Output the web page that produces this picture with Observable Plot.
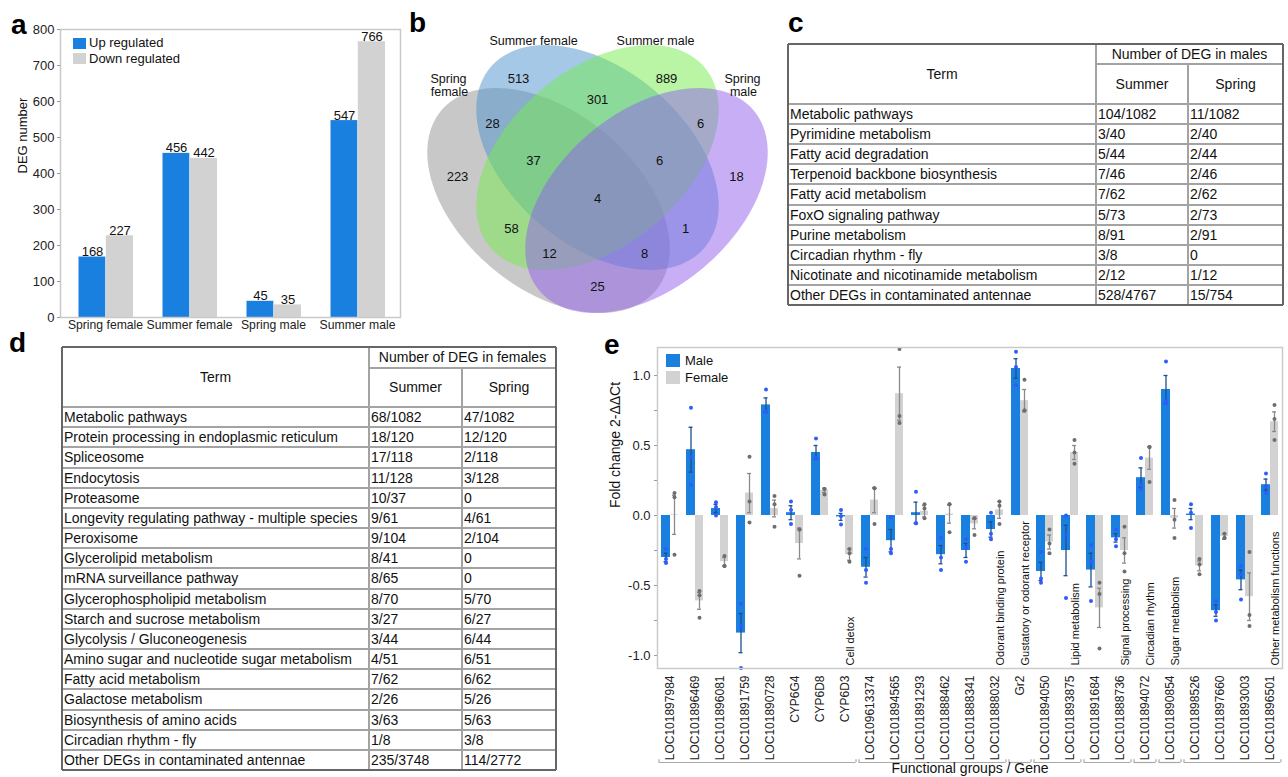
<!DOCTYPE html>
<html><head><meta charset="utf-8">
<script src="https://cdn.jsdelivr.net/npm/d3@7"></script>
<script src="https://cdn.jsdelivr.net/npm/@observablehq/plot@0.6"></script>
<style>
body{margin:0;background:#fff;width:1288px;height:777px;position:relative;overflow:hidden;font-family:"Liberation Sans",Arial,sans-serif;color:#111}
.abs{position:absolute}
.plab{position:absolute;font:bold 28px/28px "Liberation Sans",Arial,sans-serif;color:#000}
.leg{position:absolute;font:13px/13px "Liberation Sans",Arial,sans-serif;color:#111;white-space:nowrap}
.sw{position:absolute}
.tline{position:absolute}
.tcell{position:absolute;font:14px "Liberation Sans",Arial,sans-serif;color:#111;white-space:nowrap}
</style></head><body>
<div id="pa" class="abs" style="left:0;top:0"></div>
<div id="pb" class="abs" style="left:400px;top:0"></div>
<div id="pc" class="abs" style="left:788px;top:44px;width:495px;height:261px"></div>
<div id="pd" class="abs" style="left:62px;top:347px;width:494px;height:423px"></div>
<div id="pe" class="abs" style="left:600px;top:335px"></div>
<div class="plab" style="left:11px;top:11px">a</div>
<div class="plab" style="left:409px;top:9px">b</div>
<div class="plab" style="left:788px;top:9px">c</div>
<div class="plab" style="left:9px;top:329px">d</div>
<div class="plab" style="left:604px;top:331px">e</div>
<script>
// ---------- Panel a data ----------
const aCategories = ["Spring female","Summer female","Spring male","Summer male"];
const aSeries = ["Up regulated","Down regulated"];
const aUp = [168,456,45,547];
const aDown = [227,442,35,766];
const aTicks = [0,100,200,300,400,500,600,700,800];
const aColors = ["#1a80e0","#d2d2d2"];

// ---------- Panel b data ----------
const vennSets = ["Spring female","Summer female","Summer male","Spring male"];
const vennFills = ["#919191","#4b91cd","#73eb4b","#915feb"];
const vennRegions = ["Spring female only","Summer female only","Summer male only","Spring male only",
  "Summer female & Summer male","Spring female & Summer female","Summer male & Spring male",
  "Spring female & Summer female & Summer male","Summer female & Summer male & Spring male","All four",
  "Spring female & Summer male","Summer female & Spring male","Spring female & Summer male & Spring male",
  "Spring female & Summer female & Spring male","Spring female & Spring male"];
const vennCounts = [223,513,889,18,301,28,6,37,6,4,58,1,12,8,25];
// Venn layout (standard 4-ellipse diagram geometry, units relative to diagram centre)
const vennCx = [-49,0,0,49], vennCy = [20,-23,-23,20], vennRot = [40,40,-40,-40];
const vennSemiA = 140, vennSemiB = 88;
const vennLabelX = [-140,-79,69,139,0,-105,103,-64,62,0,-86,88,-48,47,0];
const vennLabelY = [-4,-102,-102,-4,-81,-57,-57,-20,-20,18,48,48,73,73,106];
const vennSetLabelText = ["Spring","female","Summer female","Summer male","Spring","male"];
const vennSetLabelX = [-149,-148,-64,58,145,146];
const vennSetLabelY = [-101.5,-88.5,-140,-140,-101.5,-88.5];

// ---------- Panel c data ----------
const cTerms = ["Metabolic pathways","Pyrimidine metabolism","Fatty acid degradation","Terpenoid backbone biosynthesis","Fatty acid metabolism","FoxO signaling pathway","Purine metabolism","Circadian rhythm  - fly","Nicotinate and nicotinamide metabolism","Other DEGs in contaminated antennae"];
const cSummer = ["104/1082","3/40","5/44","7/46","7/62","5/73","8/91","3/8","2/12","528/4767"];
const cSpring = ["11/1082","2/40","2/44","2/46","2/62","2/73","2/91","0","1/12","15/754"];

// ---------- Panel d data ----------
const dTerms = ["Metabolic pathways","Protein processing in endoplasmic reticulum","Spliceosome","Endocytosis","Proteasome","Longevity regulating pathway - multiple species","Peroxisome","Glycerolipid metabolism","mRNA surveillance pathway","Glycerophospholipid metabolism","Starch and sucrose metabolism","Glycolysis / Gluconeogenesis","Amino sugar and nucleotide sugar metabolism","Fatty acid metabolism","Galactose metabolism","Biosynthesis of amino acids","Circadian rhythm  - fly","Other DEGs in contaminated antennae"];
const dSummer = ["68/1082","18/120","17/118","11/128","10/37","9/61","9/104","8/41","8/65","8/70","3/27","3/44","4/51","7/62","2/26","3/63","1/8","235/3748"];
const dSpring = ["47/1082","12/120","2/118","3/128","0","4/61","2/104","0","0","5/70","6/27","6/44","6/51","6/62","5/26","5/63","3/8","114/2772"];

// ---------- Panel e data ----------
const eGenes = ["LOC101897984","LOC101896469","LOC101896081","LOC101891759","LOC101890728","CYP6G4","CYP6D8","CYP6D3","LOC109613374","LOC101894565","LOC101891293","LOC101888462","LOC101888341","LOC101888032","Gr2","LOC101894050","LOC101893875","LOC101891684","LOC101888736","LOC101894072","LOC101890854","LOC101898526","LOC101897660","LOC101893003","LOC101896501"];
const eMaleMean = [-0.30,0.47,0.05,-0.84,0.79,0.02,0.45,-0.01,-0.37,-0.18,0.02,-0.28,-0.25,-0.10,1.05,-0.40,-0.25,-0.39,-0.16,0.27,0.90,0.01,-0.68,-0.46,0.22];
const eMaleSE = [0.03,0.16,0.03,0.14,0.05,0.05,0.05,0.025,0.07,0.08,0.075,0.065,0.05,0.055,0.07,0.065,0.18,0.12,0.03,0.07,0.10,0.04,0.04,0.07,0.04];
const eFemaleMean = [0.005,-0.61,-0.33,0.16,0.05,-0.20,0.18,-0.28,0.11,0.87,0.03,0.01,-0.06,0.04,0.82,-0.19,0.45,-0.66,-0.25,0.41,-0.02,-0.36,-0.15,-0.58,0.67];
const eFemaleSE = [0.14,0.06,0.03,0.14,0.06,0.11,0.015,0.04,0.09,0.19,0.04,0.065,0.035,0.06,0.08,0.05,0.05,0.14,0.09,0.08,0.07,0.035,0.02,0.17,0.07];
const eMalePts = [[-0.24,-0.31,-0.34],[0.77,0.42,0.22],[0.095,0.06,0.0],[-0.63,-0.79,-1.09],[0.90,0.74,0.74],[0.10,0.04,-0.06],[0.55,0.41,0.41],[0.04,-0.005,-0.064],[-0.24,-0.39,-0.48],[-0.01,-0.24,-0.27],[0.17,-0.055,-0.055],[-0.16,-0.30,-0.39],[-0.17,-0.23,-0.33],[0.02,-0.13,-0.17],[1.17,1.06,0.93],[-0.26,-0.45,-0.48],[0.0,-0.14,-0.59],[-0.21,-0.33,-0.61],[-0.10,-0.17,-0.22],[0.41,0.22,0.19],[1.10,0.82,0.80],[0.08,0.02,-0.09],[-0.61,-0.69,-0.75],[-0.36,-0.42,-0.60],[0.30,0.21,0.16]];
const eFemalePts = [[0.16,0.13,-0.28],[-0.54,-0.57,-0.73],[-0.29,-0.36,-0.36],[0.42,0.10,-0.05],[0.14,0.08,-0.08],[-0.10,-0.10,-0.43],[0.19,0.19,0.15],[-0.24,-0.27,-0.33],[0.195,0.195,-0.06],[1.19,0.71,0.66],[0.08,0.05,-0.02],[0.08,0.08,-0.12],[-0.02,-0.02,-0.14],[0.10,0.07,-0.06],[0.97,0.75,0.75],[-0.10,-0.20,-0.27],[0.54,0.45,0.37],[-0.48,-0.56,-0.95],[-0.08,-0.27,-0.40],[0.49,0.49,0.24],[0.11,-0.03,-0.16],[-0.31,-0.35,-0.42],[-0.13,-0.16,-0.16],[-0.26,-0.71,-0.79],[0.79,0.69,0.54]];
const eGroups = ["Cell detox","Odorant binding protein","Gustatory or odorant receptor","Lipid metabolism","Signal processing","Circadian rhythm","Sugar metabolism","Other metabolism functions"];
const eGroupSizes = [8,6,1,2,2,1,1,4];
const eTicks = [-1,-0.75,-0.5,-0.25,0,0.25,0.5,0.75,1];
const eSeries = ["Male","Female"];
const eColors = ["#1a80e0","#d2d2d2"];

const FONT = "'Liberation Sans', Arial, sans-serif";

// ================= Panel a =================
const aRows = aCategories.map((c,i)=>({cat:c, up:aUp[i], down:aDown[i]}));
const plotA = Plot.plot({
  width:410, height:340, marginLeft:60, marginRight:10, marginTop:29, marginBottom:23,
  style:{fontFamily:FONT, fontSize:"13px", color:"#222", background:"transparent", overflow:"visible"},
  x:{domain:aCategories, range:[62,400], padding:0},
  y:{domain:[0,800]},
  marks:[
    Plot.barY(aRows,{x:"cat", y:"up", fill:aColors[0], insetLeft:15.5, insetRight:41.7}),
    Plot.barY(aRows,{x:"cat", y:"down", fill:aColors[1], insetLeft:42.8, insetRight:14}),
    Plot.text(aRows,{x:"cat", y:"up", text:d=>String(d.up), dx:-13, lineAnchor:"bottom", dy:-1, fill:"#111"}),
    Plot.text(aRows,{x:"cat", y:"down", text:d=>String(d.down), dx:14.5, lineAnchor:"bottom", dy:-1, fill:"#111"}),
    Plot.frame({stroke:"#c9c9c9", strokeWidth:1.5}),
    Plot.axisY({ticks:aTicks, tickSize:3, tickPadding:3, label:null, stroke:"#999"}),
    Plot.axisX({tickSize:0, tickPadding:3, label:null, fontSize:12.2}),
    Plot.text(["DEG number"],{text:d=>d, frameAnchor:"left", rotate:-90, dx:-38, fill:"#111"})
  ]
});
document.getElementById("pa").appendChild(plotA);

function addLegend(parent, items){
  items.forEach(it=>{
    const s=document.createElement("div"); s.className="sw";
    Object.assign(s.style,{left:it.sx+"px",top:it.sy+"px",width:it.sw+"px",height:it.sh+"px",background:it.color});
    parent.appendChild(s);
    const t=document.createElement("div"); t.className="leg"; t.textContent=it.label;
    Object.assign(t.style,{left:it.tx+"px",top:it.ty+"px"});
    parent.appendChild(t);
  });
}
addLegend(document.body,[
  {label:aSeries[0], color:aColors[0], sx:73, sy:38, sw:13, sh:11, tx:89, ty:36},
  {label:aSeries[1], color:aColors[1], sx:73, sy:53, sw:13, sh:11, tx:89, ty:52}
]);

// ================= Panel b =================
const vennPts = [];
vennSets.forEach((s,k)=>{
  const th = vennRot[k]*Math.PI/180;
  d3.range(0,360,3).forEach(deg=>{
    const t = deg*Math.PI/180;
    const ex = vennSemiA*Math.cos(t), ey = vennSemiB*Math.sin(t);
    vennPts.push({set:s, x:vennCx[k] + ex*Math.cos(th) - ey*Math.sin(th), y:vennCy[k] + ex*Math.sin(th) + ey*Math.cos(th)});
  });
});
const vennLabels = vennCounts.map((c,i)=>({region:vennRegions[i], count:c, x:vennLabelX[i], y:vennLabelY[i]}));
const vennSetLabels = vennSetLabelText.map((s,i)=>({text:s, x:vennSetLabelX[i], y:vennSetLabelY[i]}));
const plotB = Plot.plot({
  width:390, height:335, margin:0,
  style:{fontFamily:FONT, fontSize:"13px", color:"#111", background:"transparent", overflow:"visible"},
  x:{domain:[-197,193], axis:null},
  y:{domain:[-180,155], reverse:true, axis:null},
  color:{domain:vennSets, range:vennFills},
  marks:[
    Plot.line(vennPts,{x:"x", y:"y", z:"set", fill:"set", stroke:null, fillOpacity:0.5, curve:"linear-closed"}),
    Plot.text(vennLabels,{x:"x", y:"y", text:d=>String(d.count), fill:"#111", fontSize:13}),
    Plot.text(vennSetLabels,{x:"x", y:"y", text:"text", fill:"#111", fontSize:12.5})
  ]
});
document.getElementById("pb").appendChild(plotB);

// ================= Tables c & d =================
function buildTable(el, spec){
  const W = spec.colX[3], H = spec.headBottom + spec.rowH*spec.terms.length;
  const inner = "#a3a3a3", outer = "#666";
  function hl(y,x1,x2,c,w){const d=document.createElement("div");d.className="tline";Object.assign(d.style,{left:x1+"px",top:(y-w/2)+"px",width:(x2-x1)+"px",height:w+"px",background:c});el.appendChild(d);}
  function vl(x,y1,y2,c,w){const d=document.createElement("div");d.className="tline";Object.assign(d.style,{left:(x-w/2)+"px",top:y1+"px",width:w+"px",height:(y2-y1)+"px",background:c});el.appendChild(d);}
  function cell(txt,x,y,w,h,align){const d=document.createElement("div");d.className="tcell";d.textContent=txt;
    Object.assign(d.style,{left:x+"px",top:y+"px",width:w+"px",height:h+"px",lineHeight:h+"px",textAlign:align||"left"});el.appendChild(d);}
  hl(spec.headMid, spec.colX[1], W, inner, 1.5);
  hl(spec.headBottom, 0, W, inner, 2);
  spec.terms.forEach((t,i)=>{ if(i>0) hl(spec.headBottom+i*spec.rowH, 0, W, inner, 2); });
  vl(spec.colX[1], 0, H, inner, 1.5);
  vl(spec.colX[2], spec.headMid, H, inner, 1.5);
  hl(0,0,W,outer,2); hl(H,0,W,outer,2); vl(0,0,H,outer,2); vl(W,0,H,outer,2);
  cell("Term",0,0,spec.colX[1],spec.headBottom,"center");
  cell(spec.title,spec.colX[1],0,W-spec.colX[1],spec.headMid,"center");
  cell("Summer",spec.colX[1],spec.headMid,spec.colX[2]-spec.colX[1],spec.headBottom-spec.headMid,"center");
  cell("Spring",spec.colX[2],spec.headMid,W-spec.colX[2],spec.headBottom-spec.headMid,"center");
  spec.terms.forEach((t,i)=>{
    const y = spec.headBottom+i*spec.rowH;
    cell(t,2,y,spec.colX[1]-2,spec.rowH);
    cell(spec.summer[i],spec.colX[1]+2,y,spec.colX[2]-spec.colX[1]-2,spec.rowH);
    cell(spec.spring[i],spec.colX[2]+2,y,W-spec.colX[2]-2,spec.rowH);
  });
}
buildTable(document.getElementById("pc"),{colX:[0,308,400,495], headMid:20, headBottom:60, rowH:20.1, terms:cTerms, summer:cSummer, spring:cSpring, title:"Number of DEG in males"});
buildTable(document.getElementById("pd"),{colX:[0,307,400,494], headMid:21, headBottom:60, rowH:20.17, terms:dTerms, summer:dSummer, spring:dSpring, title:"Number of DEG in females"});

// ================= Panel e =================
const eRows = eGenes.map((g,i)=>({gene:g, male:eMaleMean[i], maleSE:eMaleSE[i], female:eFemaleMean[i], femaleSE:eFemaleSE[i]}));
const eMalePoints = eGenes.flatMap((g,i)=>eMalePts[i].map(v=>({gene:g, v})));
const eFemalePoints = eGenes.flatMap((g,i)=>eFemalePts[i].map(v=>({gene:g, v})));
let start = 0;
const eGroupRows = eGroups.map((name,k)=>{const r={name, first:eGenes[start], last:eGenes[start+eGroupSizes[k]-1]}; start+=eGroupSizes[k]; return r;});
const eYMin = -1.093, eYMax = 1.2;
const maleErr = "#1d4f8f", femaleErr = "#8a8a8a";
const plotE = Plot.plot({
  width:688, height:442, marginLeft:57, marginRight:6, marginTop:12, marginBottom:109,
  style:{fontFamily:FONT, fontSize:"13px", color:"#222", background:"transparent", overflow:"visible"},
  x:{domain:eGenes, padding:0},
  y:{domain:[eYMin,eYMax]},
  marks:[
    Plot.barY(eRows,{x:"gene", y:"male", fill:eColors[0], insetLeft:4, insetRight:12}),
    Plot.barY(eRows,{x:"gene", y:"female", fill:eColors[1], insetLeft:13, insetRight:4}),
    Plot.ruleX(eRows,{x:"gene", y1:d=>d.male-d.maleSE, y2:d=>d.male+d.maleSE, dx:-4, stroke:maleErr, strokeWidth:1.3}),
    Plot.tickY(eRows,{x:"gene", y:d=>d.male+d.maleSE, insetLeft:6.5, insetRight:14.5, stroke:maleErr, strokeWidth:1.3}),
    Plot.tickY(eRows,{x:"gene", y:d=>d.male-d.maleSE, insetLeft:6.5, insetRight:14.5, stroke:maleErr, strokeWidth:1.3}),
    Plot.ruleX(eRows,{x:"gene", y1:d=>d.female-d.femaleSE, y2:d=>d.female+d.femaleSE, dx:4.5, stroke:femaleErr, strokeWidth:1.3}),
    Plot.tickY(eRows,{x:"gene", y:d=>d.female+d.femaleSE, insetLeft:15, insetRight:6, stroke:femaleErr, strokeWidth:1.3}),
    Plot.tickY(eRows,{x:"gene", y:d=>d.female-d.femaleSE, insetLeft:15, insetRight:6, stroke:femaleErr, strokeWidth:1.3}),
    Plot.dot(eMalePoints,{x:"gene", y:"v", dx:-4, r:2, fill:"#2f5cff"}),
    Plot.dot(eFemalePoints,{x:"gene", y:"v", dx:4.5, r:2, fill:"#6e6e6e"}),
    Plot.frame({stroke:"#cbcbcb", strokeWidth:1.5}),
    Plot.axisY({ticks:eTicks, tickFormat:d=>(Math.round(d*2)===d*2 ? d.toFixed(1) : ""), tickSize:3, tickPadding:4, label:null, stroke:"#999", fontSize:13}),
    Plot.axisX({tickRotate:-90, tickSize:0, tickPadding:7, label:null, fontSize:12}),
    Plot.text(eGroupRows,{x:"last", y:d=>eYMin, text:"name", rotate:-90, textAnchor:"start", dx:5, dy:-3, fontSize:11, fill:"#111"}),
    Plot.ruleY(eGroupRows,{x1:"first", x2:"last", y:d=>eYMin, dy:94, insetLeft:1.5, insetRight:1.5, stroke:"#a8a8a8", strokeWidth:1.2}),
    Plot.ruleX(eGroupRows,{x:"first", y1:d=>eYMin, y2:d=>eYMin+0.02, dy:94, dx:-11, stroke:"#a8a8a8", strokeWidth:1.2}),
    Plot.ruleX(eGroupRows,{x:"last", y1:d=>eYMin, y2:d=>eYMin+0.02, dy:94, dx:11, stroke:"#a8a8a8", strokeWidth:1.2}),
    Plot.text(["Functional groups / Gene"],{text:d=>d, frameAnchor:"bottom", dy:104, fontSize:14, fill:"#111"}),
    Plot.text(["Fold change 2-ΔΔCt"],{text:d=>d, frameAnchor:"left", rotate:-90, dx:-42, fontSize:14, fill:"#111"})
  ]
});
document.getElementById("pe").appendChild(plotE);
addLegend(document.body,[
  {label:eSeries[0], color:eColors[0], sx:666, sy:354, sw:14, sh:13, tx:685, ty:354},
  {label:eSeries[1], color:eColors[1], sx:666, sy:371, sw:14, sh:13, tx:685, ty:371}
]);
</script>
</body></html>
